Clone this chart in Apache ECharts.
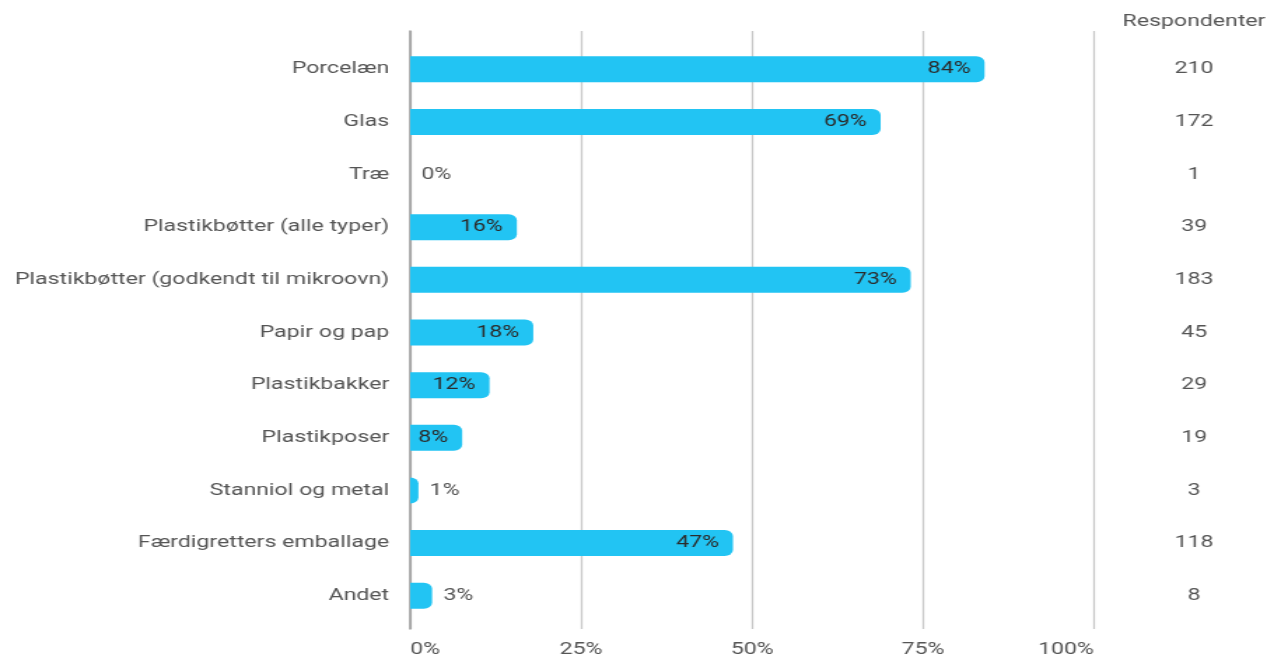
<!DOCTYPE html>
<html>
<head>
<meta charset="utf-8">
<script src="https://cdn.jsdelivr.net/npm/echarts@6/dist/echarts.min.js"></script>
<style>
html,body{margin:0;padding:0;background:#fff;overflow:hidden;}
#chart{width:905px;height:658px;transform:scaleX(1.4);transform-origin:0 0;}
</style>
</head>
<body>
<div id="chart"></div>
<script>
const categories = ["Porcelæn","Glas","Træ","Plastikbøtter (alle typer)","Plastikbøtter (godkendt til mikroovn)","Papir og pap","Plastikbakker","Plastikposer","Stanniol og metal","Færdigretters emballage","Andet"];
const percentValues = [84, 68.8, 0, 15.6, 73.2, 18, 11.6, 7.6, 1.2, 47.2, 3.2];
const respondents = [210, 172, 1, 39, 183, 45, 29, 19, 3, 118, 8];
const xTicks = [0, 25, 50, 75, 100];
const rightHeader = "Respondenter";

const FONT = "Roboto";
const FS = 16.5;
const chart = echarts.init(document.getElementById('chart'), null, {renderer:'canvas'});

const barData = percentValues.map(v => {
  const inside = v >= 5;
  return {
    value: v,
    label: inside
      ? {position:'insideRight', distance: 10, color:'#2b2b2b'}
      : {position:'right', distance: 8, color:'#555'}
  };
});

chart.setOption({
  animation:false,
  textStyle:{fontFamily:FONT},
  grid:[
    {left:293, right:123.6, top:31, bottom:25},
    {left:293, right:123.6, top:43, bottom:36}
  ],
  xAxis:[
    {gridIndex:0, type:'value', min:xTicks[0], max:xTicks[xTicks.length-1], interval:25,
     axisLine:{show:false}, axisTick:{show:false},
     splitLine:{show:true, lineStyle:{color:'#c8c8c8', width:1.3}},
     axisLabel:{color:'#555', fontSize:FS, fontFamily:FONT, margin:12,
       formatter:v=>v+'%', alignMinLabel:'left', alignMaxLabel:'right'}},
    {gridIndex:1, type:'value', min:0, max:100, show:false}
  ],
  yAxis:[
    {gridIndex:0, type:'value', min:0, max:1, axisLine:{show:true, onZero:false, lineStyle:{color:'#9a9a9a', width:1.5}},
     axisTick:{show:false}, axisLabel:{show:false}, splitLine:{show:false}},
    {gridIndex:1, type:'category', data:categories, inverse:true,
     axisLine:{show:false}, axisTick:{show:false},
     axisLabel:{color:'#555', fontSize:FS, fontFamily:FONT, margin:15, padding:[3,0,0,0]}},
    {gridIndex:1, type:'category', data:respondents, inverse:true, position:'right',
     axisLine:{show:false}, axisTick:{show:false},
     axisLabel:{color:'#555', fontSize:FS, fontFamily:FONT, margin:71.5, align:'center', padding:[3,0,0,0]}}
  ],
  graphic:[{type:'text', x:852.9, y:22, style:{text:rightHeader, fill:'#555', font:FS+'px '+FONT, align:'center', verticalAlign:'middle'}}],
  series:[{
    type:'bar', xAxisIndex:1, yAxisIndex:1, data:barData, barWidth:26,
    itemStyle:{color:'#22c4f3', borderRadius:[0,6,6,0]},
    label:{show:true, fontSize:FS, fontFamily:FONT, padding:[3,0,0,0], formatter:p=>Math.round(p.value)+'%'}
  }]
});
</script>
</body>
</html>
